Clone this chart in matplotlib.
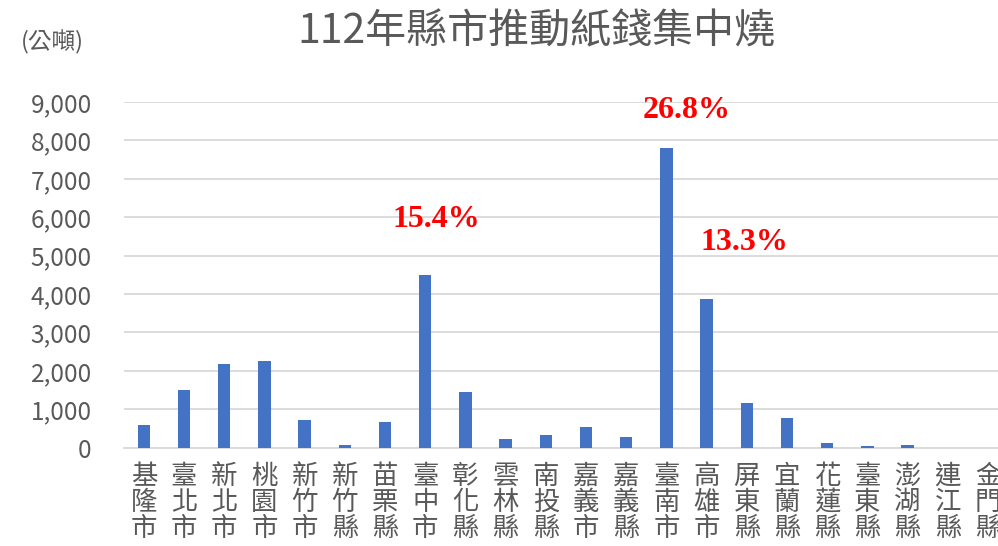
import matplotlib
matplotlib.use('Agg')
import matplotlib.pyplot as plt
import matplotlib.transforms as mtransforms
import numpy as np

plt.rcParams['font.family'] = ['Noto Sans CJK TC', 'DejaVu Sans']

# 112年 各縣市紙錢集中燒量 (公噸)
counties = ['基隆市', '臺北市', '新北市', '桃園市', '新竹市', '新竹縣', '苗栗縣',
            '臺中市', '彰化縣', '雲林縣', '南投縣', '嘉義市', '嘉義縣', '臺南市',
            '高雄市', '屏東縣', '宜蘭縣', '花蓮縣', '臺東縣', '澎湖縣', '連江縣', '金門縣']
tons = [590, 1500, 2190, 2270, 720, 70, 670,
        4490, 1440, 226, 322, 530, 270, 7790,
        3880, 1165, 774, 122, 52, 61, 0, 0]

# share labels shown on the chart
share_labels = ['15.4%', '26.8%', '13.3%']
share_x = [7.27, 13.5, 14.95]
share_y = [5950, 8770, 5330]

y_ticks = [0, 1000, 2000, 3000, 4000, 5000, 6000, 7000, 8000, 9000]

text_gray = '#595959'
grid_gray = '#D9D9D9'

fig = plt.figure(figsize=(9.98, 5.46), dpi=100)
# plot area runs a bit past the right edge, like the cropped original
ax = fig.add_axes([123.7 / 998, 98.3 / 546, 884.4 / 998, 345.7 / 546])

x = np.arange(len(counties))
ax.bar(x, tons, width=0.31, color='#4472C4', zorder=3)

ax.set_xlim(-0.5, len(counties) - 0.5)
ax.set_ylim(0, 9000)
ax.set_yticks(y_ticks)
ax.set_yticklabels(['{:,}'.format(v) for v in y_ticks])
ax.yaxis.grid(True, color=grid_gray, linewidth=1.3, zorder=0)

ax.set_xticks(x)
ax.set_xticklabels(['\n'.join(c) for c in counties], linespacing=0.95,
                   va='top')
shift = mtransforms.ScaledTranslation(3.5 / 100, 0, fig.dpi_scale_trans)
for lbl in ax.get_xticklabels():
    lbl.set_transform(lbl.get_transform() + shift)

ax.tick_params(axis='y', length=0, labelsize=17.5, labelcolor=text_gray, pad=23)
ax.tick_params(axis='x', length=0, labelsize=19, labelcolor=text_gray, pad=11)

for s in ['top', 'right', 'left']:
    ax.spines[s].set_visible(False)
ax.spines['bottom'].set_color(grid_gray)
ax.spines['bottom'].set_linewidth(1.3)

for lab, xx, yy in zip(share_labels, share_x, share_y):
    ax.text(xx, yy, lab, color='#FF0000', fontsize=23, fontweight='bold',
            family=['Liberation Serif', 'DejaVu Serif'], ha='center', va='center')

fig.text(536 / 998, 1 - 32 / 546, '112年縣市推動紙錢集中燒', ha='center', va='center',
         fontsize=29.5, color=text_gray)
fig.text(52 / 998, 1 - 42 / 546, '(公噸)', ha='center', va='center',
         fontsize=17, color=text_gray)

fig.savefig('out.png', dpi=100)
